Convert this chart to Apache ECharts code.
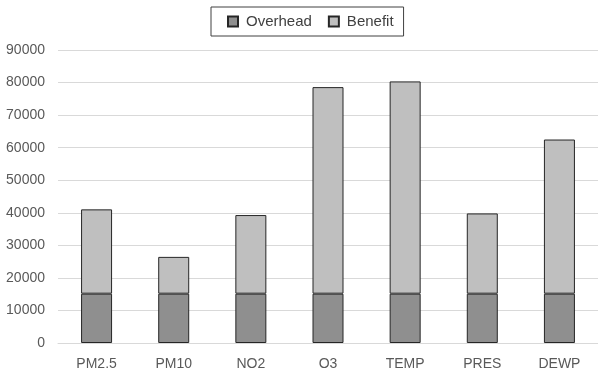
<!DOCTYPE html>
<html>
<head>
<meta charset="utf-8">
<script src="https://cdn.jsdelivr.net/npm/echarts@6/dist/echarts.min.js"></script>
<style>html,body{margin:0;padding:0;background:#fff}#c{width:598px;height:373px}</style>
</head>
<body>
<div id="c"></div>
<script>
var categories = ['PM2.5', 'PM10', 'NO2', 'O3', 'TEMP', 'PRES', 'DEWP'];
var overhead = [15150, 15150, 15150, 15150, 15150, 15150, 15150];
var benefit = [25900, 11300, 24150, 63450, 65200, 24650, 47350];
var yTicks = [0, 10000, 20000, 30000, 40000, 50000, 60000, 70000, 80000, 90000];

var chart = echarts.init(document.getElementById('c'), null, {renderer: 'canvas'});
var font = 'Liberation Sans, Arial, sans-serif';
chart.setOption({
  animation: false,
  backgroundColor: '#ffffff',
  legend: {
    left: 211, top: 7,
    padding: [7, 10, 7, 16],
    itemGap: 16,
    itemWidth: 10, itemHeight: 10,
    icon: 'rect',
    borderColor: '#404040', borderWidth: 1,
    textStyle: {fontFamily: font, fontSize: 15, color: '#404040', padding: [0, 0, 0, 3]},
    data: ['Overhead', 'Benefit']
  },
  grid: {left: 58, right: 0, top: 50, bottom: 30},
  xAxis: {
    type: 'category',
    data: categories,
    axisTick: {show: false},
    axisLine: {lineStyle: {color: '#d9d9d9', width: 1}},
    axisLabel: {fontFamily: font, fontSize: 14, color: '#595959', margin: 14}
  },
  yAxis: {
    type: 'value',
    min: yTicks[0], max: yTicks[yTicks.length - 1], interval: 10000,
    axisLine: {show: false},
    axisTick: {show: false},
    splitLine: {lineStyle: {color: '#d9d9d9', width: 1}},
    axisLabel: {fontFamily: font, fontSize: 14, color: '#595959', margin: 13,
      formatter: function (v) { return String(v); }}
  },
  series: [
    {
      name: 'Overhead', type: 'bar', stack: 'a', barWidth: 31,
      data: overhead,
      itemStyle: {color: '#8f8f8f', borderColor: '#262626', borderWidth: 1}
    },
    {
      name: 'Benefit', type: 'bar', stack: 'a', barWidth: 31,
      data: benefit,
      itemStyle: {color: '#bfbfbf', borderColor: '#262626', borderWidth: 1}
    }
  ]
});
</script>
</body>
</html>
